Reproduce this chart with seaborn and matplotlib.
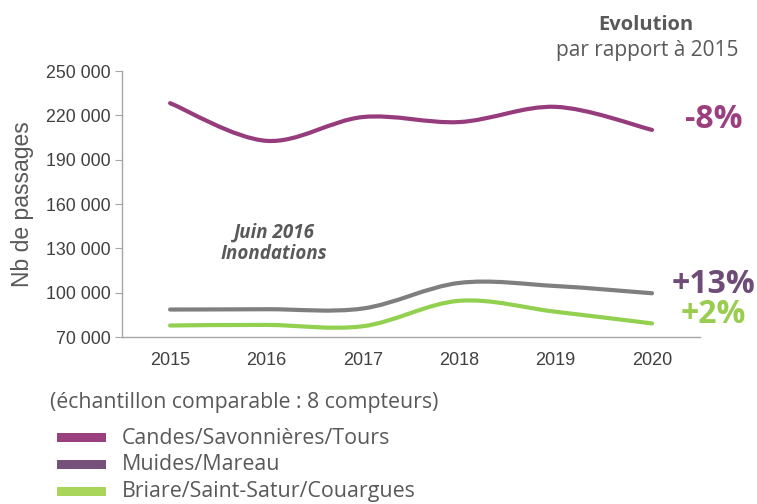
import numpy as np
import pandas as pd
import matplotlib
matplotlib.use("Agg")
import matplotlib.pyplot as plt
from matplotlib.path import Path
from matplotlib.patches import PathPatch, Rectangle
import seaborn as sns

years = ["2015", "2016", "2017", "2018", "2019", "2020"]
candes = [228300, 202800, 218900, 215500, 225800, 210200]
muides = [88700, 88900, 89400, 106700, 104600, 99700]
briare = [77900, 78300, 77400, 94600, 87200, 79300]
names = ["Candes/Savonnières/Tours", "Muides/Mareau", "Briare/Saint-Satur/Couargues"]
evolution = ["-8%", "+13%", "+2%"]

line_colors = ["#963c7d", "#7f7f7f", "#92d050"]
legend_colors = ["#9b407e", "#765179", "#a9d65a"]
label_colors = ["#9b3f7e", "#6f4b79", "#9acd4f"]
grey = "#595959"

sns.set_style("white")
plt.rcParams["font.family"] = ["Liberation Sans", "DejaVu Sans"]

df = pd.DataFrame({"year": years, names[0]: candes, names[1]: muides, names[2]: briare})

fig = plt.figure(figsize=(7.57, 5.04), dpi=100)
ax = fig.add_axes([0.161, 0.331, 0.764, 0.528])


def smooth_path(x, y):
    # Catmull-Rom converted to cubic bezier segments (Excel-like smoothed line)
    x = np.asarray(x, float)
    y = np.asarray(y, float)
    px = np.concatenate([[x[0]], x, [x[-1]]])
    py = np.concatenate([[y[0]], y, [y[-1]]])
    verts = [(x[0], y[0])]
    codes = [Path.MOVETO]
    for i in range(1, len(px) - 2):
        c1 = (px[i] + (px[i + 1] - px[i - 1]) / 6, py[i] + (py[i + 1] - py[i - 1]) / 6)
        c2 = (px[i + 1] - (px[i + 2] - px[i]) / 6, py[i + 1] - (py[i + 2] - py[i]) / 6)
        verts += [c1, c2, (px[i + 1], py[i + 1])]
        codes += [Path.CURVE4] * 3
    return Path(verts, codes)


xpos = np.arange(len(years))
for name, col in zip(names, line_colors):
    ax.add_patch(PathPatch(smooth_path(xpos, df[name]), facecolor="none",
                           edgecolor=col, lw=3, capstyle="round"))

ax.set_xlim(-0.5, 5.5)
ax.set_ylim(70000, 250000)
ax.set_yticks(range(70000, 250001, 30000))
ax.set_yticklabels([f"{v:,}".replace(",", " ") for v in range(70000, 250001, 30000)])
ax.set_xticks(xpos)
ax.set_xticklabels(years)
ax.set_xticks(np.arange(-0.5, 6, 1), minor=True)

for s in ["top", "right"]:
    ax.spines[s].set_visible(False)
for s in ["left", "bottom"]:
    ax.spines[s].set_color("#a6a6a6")
    ax.spines[s].set_linewidth(1)

ax.tick_params(axis="x", which="major", length=0, pad=11, labelsize=13, labelcolor="#404040")
ax.tick_params(axis="x", which="minor", length=5, color="#a6a6a6", direction="out")
ax.tick_params(axis="y", length=5, color="#a6a6a6", direction="out", left=True,
               labelsize=12.8, labelcolor="#404040", pad=3)
ax.set_ylabel("Nb de passages", fontsize=16.5, color=grey, labelpad=9)

ax.text(1.08, 133600, "Juin 2016\nInondations", ha="center", va="center",
        fontsize=13.5, fontweight="bold", fontstyle="italic", color=grey,
        family=["Open Sans", "DejaVu Sans"], linespacing=1.05)

ends = [candes[-1] + 6800, muides[-1] + 5800, briare[-1] + 5800]
for txt, yv, col in zip(evolution, ends, label_colors):
    ax.text(5.64, yv, txt, ha="center", va="center", fontsize=23, fontweight="bold",
            color=col, family=["Open Sans", "DejaVu Sans"])

fig.text(0.853, 0.951, "Evolution", ha="center", va="center", fontsize=14.5,
         fontweight="bold", color=grey, family=["Open Sans", "DejaVu Sans"])
fig.text(0.855, 0.899, "par rapport à 2015", ha="center", va="center", fontsize=15,
         color=grey, family=["Open Sans", "DejaVu Sans"])

fig.text(0.066, 0.202, "(échantillon comparable : 8 compteurs)", ha="left", va="center",
         fontsize=15.3, color=grey, family=["Open Sans", "DejaVu Sans"])
for i, (name, col) in enumerate(zip(names, legend_colors)):
    yc = 1 - (437 + 27 * i) / 504
    fig.add_artist(Rectangle((57 / 757, yc - 4.5 / 504), 49 / 757, 9 / 504,
                             transform=fig.transFigure, color=col, lw=0))
    fig.text(122 / 757, yc - 1 / 504, name, ha="left", va="center", fontsize=15.4, color=grey,
             family=["Open Sans", "DejaVu Sans"])

fig.savefig("out.png", dpi=100)
